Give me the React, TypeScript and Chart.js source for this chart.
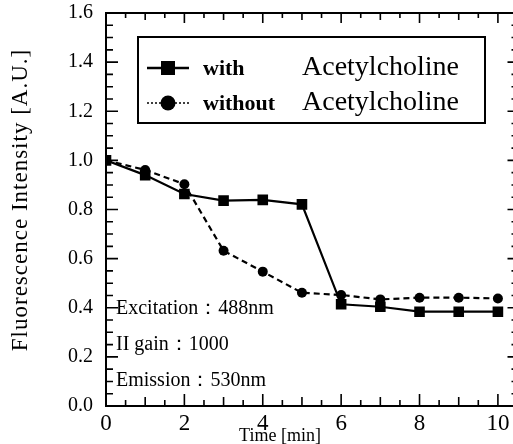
import React, { useEffect, useRef } from "react";
import { Chart, registerables } from "chart.js";

Chart.register(...registerables);

const times = [0, 1, 2, 3, 4, 5, 6, 7, 8, 9, 10];
const withACh = [1.0, 0.94, 0.863, 0.836, 0.839, 0.821, 0.414, 0.404, 0.384, 0.384, 0.384];
const withoutACh = [1.0, 0.961, 0.903, 0.632, 0.547, 0.461, 0.452, 0.434, 0.441, 0.441, 0.438];
const xTickValues = [0, 2, 4, 6, 8, 10];
const yTickValues = [0, 0.2, 0.4, 0.6, 0.8, 1.0, 1.2, 1.4, 1.6];
const seriesNames = ["with", "without"];
const legendSuffix = "Acetylcholine";
const notes = ["Excitation：488nm", "II gain：1000", "Emission：530nm"];
const xTitle = "Time [min]";
const yTitle = "Fluorescence Intensity [A.U.]";

const SERIF = "'Liberation Serif', 'DejaVu Serif', serif";

const decorPlugin = {
  id: "decor",
  afterDatasetsDraw(chart: any) {
    const { ctx, chartArea: a, scales } = chart;
    const x = scales.x;
    const y = scales.y;
    ctx.save();
    ctx.strokeStyle = "#000";
    ctx.fillStyle = "#000";
    // frame
    ctx.lineWidth = 2;
    ctx.strokeRect(a.left, a.top, a.right - a.left, a.bottom - a.top);
    // inward ticks
    ctx.lineWidth = 1.6;
    ctx.beginPath();
    for (let i = 0; i <= 32; i++) {
      const py = y.getPixelForValue(i * 0.05);
      const major = i % 4 === 0;
      const l = major ? 12 : 7;
      const r = major ? 10 : 6;
      ctx.moveTo(a.left, py);
      ctx.lineTo(a.left + l, py);
      ctx.moveTo(a.right, py);
      ctx.lineTo(a.right - r, py);
    }
    for (let i = 0; i <= 21; i++) {
      const px = x.getPixelForValue(i * 0.5);
      const major = i % 4 === 0;
      const mid = i % 2 === 0;
      const b = major ? 12 : mid ? 9 : 6;
      const t = major ? 10 : mid ? 7 : 5;
      ctx.moveTo(px, a.bottom);
      ctx.lineTo(px, a.bottom - b);
      ctx.moveTo(px, a.top);
      ctx.lineTo(px, a.top + t);
    }
    ctx.stroke();

    // legend box
    ctx.lineWidth = 2;
    ctx.strokeRect(138, 37, 347, 86);
    const rows = [68, 103];
    chart.data.datasets.forEach((ds: any, i: number) => {
      const ry = rows[i];
      ctx.save();
      ctx.lineWidth = i === 0 ? 2.5 : 1.5;
      ctx.setLineDash(i === 0 ? [] : [2, 2]);
      ctx.beginPath();
      ctx.moveTo(147, ry);
      ctx.lineTo(189, ry);
      ctx.stroke();
      ctx.restore();
      ctx.beginPath();
      if (ds.pointStyle === "rect") {
        ctx.rect(161, ry - 7, 14, 14);
      } else {
        ctx.arc(168, ry, 7.5, 0, Math.PI * 2);
      }
      ctx.fill();
      ctx.textBaseline = "middle";
      ctx.textAlign = "left";
      ctx.font = `bold 22px ${SERIF}`;
      ctx.fillText(ds.label, 203, ry + 1);
      ctx.font = `28px ${SERIF}`;
      ctx.fillText(legendSuffix, 302, ry, 158);
    });

    // notes
    ctx.font = `20px ${SERIF}`;
    ctx.textBaseline = "middle";
    ctx.textAlign = "left";
    const noteY = [309, 345, 381];
    notes.forEach((n, i) => ctx.fillText(n, 116, noteY[i], 158));

    // x title
    ctx.font = `18px ${SERIF}`;
    ctx.textAlign = "center";
    ctx.fillText(xTitle, 280, 436);

    // y title
    ctx.save();
    ctx.translate(21, 200);
    ctx.rotate(-Math.PI / 2);
    ctx.font = `23px ${SERIF}`;
    (ctx as any).letterSpacing = "1px";
    ctx.textAlign = "center";
    ctx.textBaseline = "middle";
    ctx.fillText(yTitle, 0, 0);
    ctx.restore();

    ctx.restore();
  },
};

export default function App() {
  const ref = useRef<HTMLCanvasElement | null>(null);
  useEffect(() => {
    if (!ref.current) return;
    const chart = new Chart(ref.current, {
      type: "line",
      data: {
        datasets: [
          {
            label: seriesNames[0],
            data: times.map((t, i) => ({ x: t, y: withACh[i] })),
            borderColor: "#000",
            backgroundColor: "#000",
            borderWidth: 2.2,
            pointStyle: "rect",
            pointRadius: 7.5,
            pointBackgroundColor: "#000",
            pointBorderWidth: 0,
          },
          {
            label: seriesNames[1],
            data: times.map((t, i) => ({ x: t, y: withoutACh[i] })),
            borderColor: "#000",
            backgroundColor: "#000",
            borderWidth: 2.2,
            borderDash: [6, 4],
            pointStyle: "circle",
            pointRadius: 5,
            pointBackgroundColor: "#000",
            pointBorderWidth: 0,
          },
        ],
      },
      options: {
        responsive: false,
        animation: false,
        layout: { padding: { top: 13, right: 5.5, left: 0, bottom: 0 } },
        plugins: { legend: { display: false }, tooltip: { enabled: false } },
        scales: {
          x: {
            type: "linear",
            min: 0,
            max: 10.5,
            afterBuildTicks: (s: any) => {
              s.ticks = xTickValues.map((v) => ({ value: v }));
            },
            afterFit: (s: any) => {
              s.height = 38;
              s.paddingRight = 0;
              s.paddingLeft = 0;
            },
            grid: { display: false, drawTicks: false },
            border: { display: false },
            ticks: {
              color: "#000",
              font: { family: SERIF, size: 23 },
              padding: 4,
              maxRotation: 0,
              autoSkip: false,
              callback: (v: any) => String(v),
            },
          },
          y: {
            type: "linear",
            min: 0,
            max: 1.6,
            afterBuildTicks: (s: any) => {
              s.ticks = yTickValues.map((v) => ({ value: v }));
            },
            afterFit: (s: any) => {
              s.width = 106;
              s.paddingTop = 0;
              s.paddingBottom = 0;
            },
            grid: { display: false, drawTicks: false },
            border: { display: false },
            ticks: {
              color: "#000",
              font: { family: SERIF, size: 20 },
              padding: 13,
              autoSkip: false,
              callback: (v: any) => Number(v).toFixed(1),
            },
          },
        },
      },
      plugins: [decorPlugin],
    });
    return () => chart.destroy();
  }, []);
  return (
    <div
      style={{
        position: "fixed",
        left: 0,
        top: 0,
        width: 513,
        height: 444,
        overflow: "hidden",
        background: "#fff",
      }}
    >
      <canvas ref={ref} width={525} height={444} style={{ display: "block" }} />
    </div>
  );
}
